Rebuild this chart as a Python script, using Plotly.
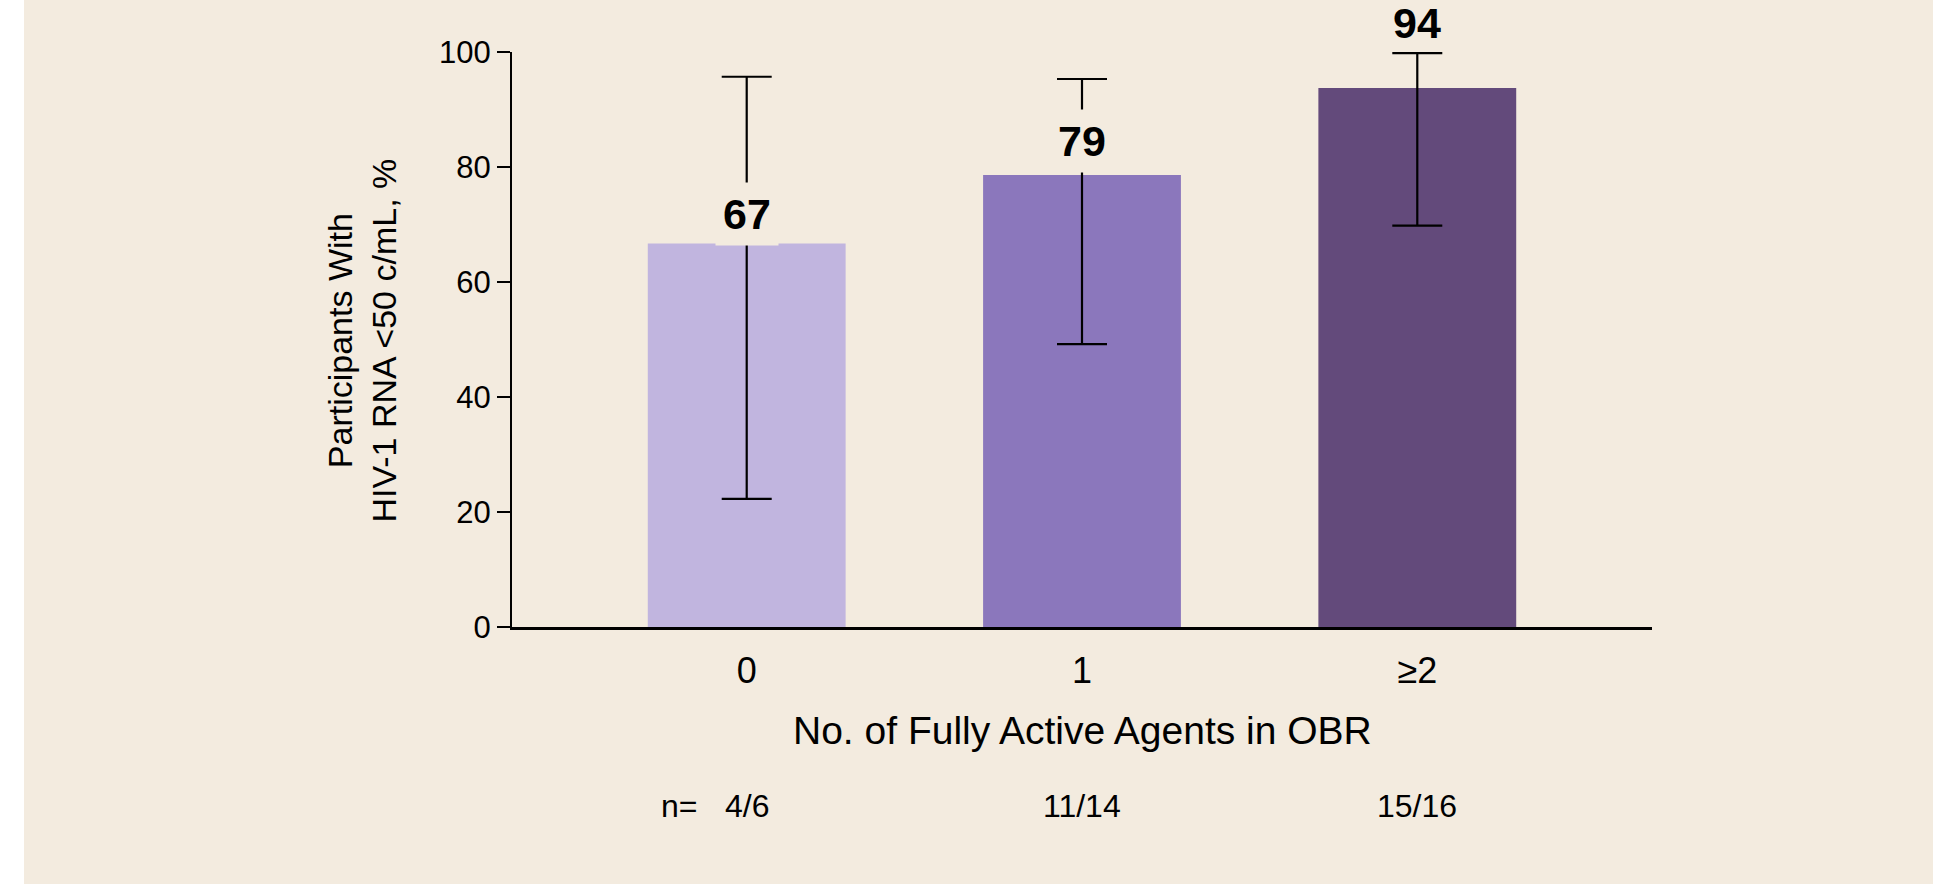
import plotly.graph_objects as go

# ---- data ----
categories = ["0", "1", "≥2"]
pct_values = [66.7, 78.6, 93.75]
ci_lower = [22.3, 49.2, 69.8]
ci_upper = [95.7, 95.3, 99.8]
value_labels = ["67", "79", "94"]
n_labels = ["4/6", "11/14", "15/16"]
y_ticks = [0, 20, 40, 60, 80, 100]

# ---- styles ----
bar_colors = ["#C1B5DF", "#8B77BC", "#634A7B"]
label_offsets_px = [29, 34, 65]
label_masked = [True, True, False]
BG = "#F3EBDF"
FONT = "Liberation Sans, Arial, sans-serif"

W, H = 1933, 884
ML, MR, MT, MB = 512, 281, 52, 257
plot_w = W - ML - MR
plot_h = H - MT - MB

def px_to_paper_y(py):
    return (H - MB - py) / plot_h

def px_to_paper_x(px):
    return (px - ML) / plot_w

fig = go.Figure()
fig.add_trace(go.Bar(
    x=categories,
    y=pct_values,
    width=0.59,
    marker=dict(color=bar_colors, line=dict(width=0)),
    error_y=dict(
        type="data",
        symmetric=False,
        array=[u - v for u, v in zip(ci_upper, pct_values)],
        arrayminus=[v - l for v, l in zip(pct_values, ci_lower)],
        color="black",
        thickness=2.2,
        width=25,
    ),
    hoverinfo="skip",
))

annotations = []
for c, v, t, dy, m in zip(categories, pct_values, value_labels, label_offsets_px, label_masked):
    annotations.append(dict(
        x=c, y=v, xref="x", yref="y", text=t, showarrow=False,
        yanchor="middle", xanchor="center", yshift=dy,
        font=dict(family=FONT, size=43, color="black", weight="bold"),
        bgcolor=BG if m else "rgba(0,0,0,0)", borderpad=7,
    ))

# n= row
n_y = px_to_paper_y(806)
annotations.append(dict(
    x=categories[0], y=n_y, xref="x", yref="paper", text="n=",
    showarrow=False, xanchor="center", yanchor="middle", xshift=-68,
    font=dict(family=FONT, size=32, color="black"),
))
for c, t in zip(categories, n_labels):
    annotations.append(dict(
        x=c, y=n_y, xref="x", yref="paper", text=t, showarrow=False,
        xanchor="center", yanchor="middle",
        font=dict(family=FONT, size=32, color="black"),
    ))

# x-axis title
annotations.append(dict(
    x=0.5, y=px_to_paper_y(730), xref="paper", yref="paper",
    text="No. of Fully Active Agents in OBR", showarrow=False,
    xanchor="center", yanchor="middle",
    font=dict(family=FONT, size=39, color="black"),
))
# y-axis title
annotations.append(dict(
    x=px_to_paper_x(361.5), y=px_to_paper_y(341), xref="paper", yref="paper",
    text="Participants With<br>HIV-1 RNA <50 c/mL, %", showarrow=False,
    textangle=-90, xanchor="center", yanchor="middle", align="center",
    font=dict(family=FONT, size=34, color="black"),
))

fig.update_layout(
    width=W, height=H,
    margin=dict(l=ML, r=MR, t=MT, b=MB, pad=0),
    paper_bgcolor=BG, plot_bgcolor=BG,
    showlegend=False,
    annotations=annotations,
    shapes=[dict(
        type="rect", xref="paper", yref="paper",
        x0=px_to_paper_x(-5), x1=px_to_paper_x(24),
        y0=px_to_paper_y(H + 5), y1=px_to_paper_y(-5),
        fillcolor="white", line=dict(width=0), layer="above",
    )],
    xaxis=dict(
        type="category", range=[-0.7, 2.7],
        showline=True, linecolor="black", linewidth=2.5,
        ticks="", showgrid=False, zeroline=False,
        tickfont=dict(family=FONT, size=36, color="black"),
        ticklabelstandoff=10,
    ),
    yaxis=dict(
        range=[0, 100], tickvals=y_ticks,
        showline=True, linecolor="black", linewidth=2,
        ticks="outside", ticklen=13, tickwidth=2, tickcolor="black",
        showgrid=False, zeroline=False,
        tickfont=dict(family=FONT, size=31, color="black"),
    ),
)

fig.write_html(
    "out.html",
    config={"displayModeBar": False},
    post_script="document.body.style.margin='0px';document.body.style.overflow='hidden';",
)
